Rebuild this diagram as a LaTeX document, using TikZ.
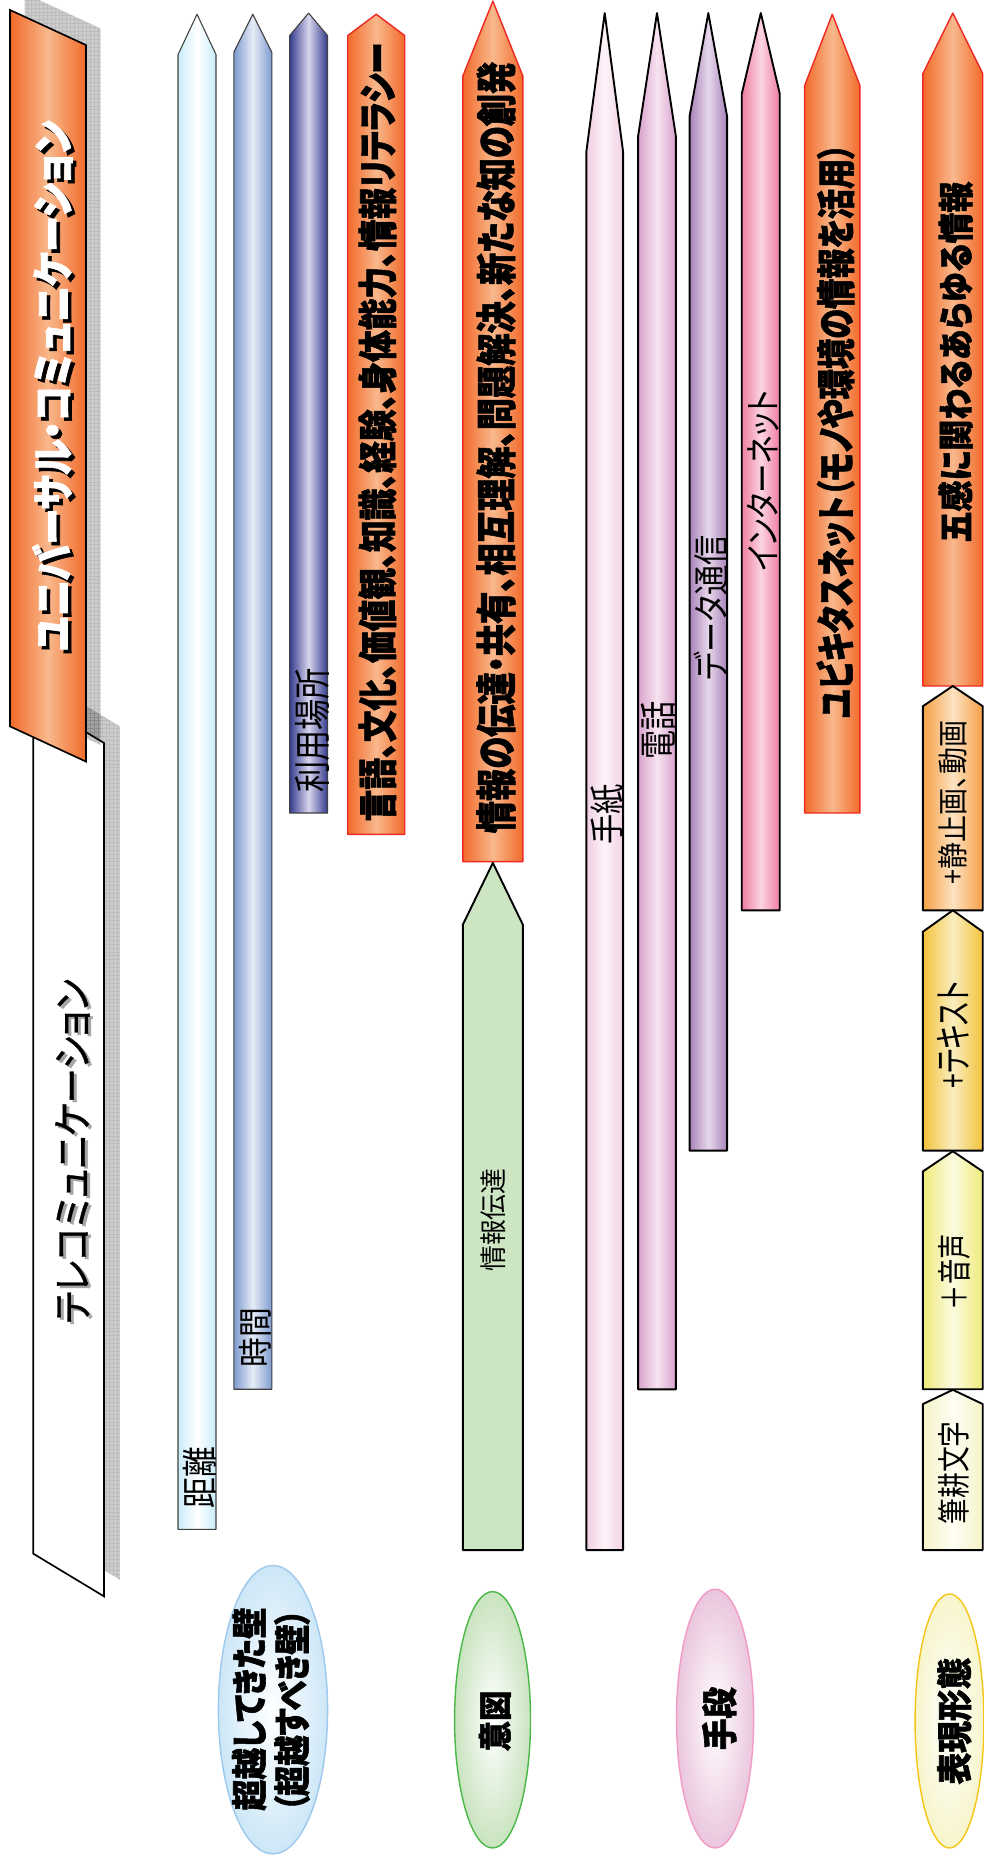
\documentclass[tikz,border=0pt]{standalone}
\usepackage{fontspec}
\setmainfont{Noto Sans CJK JP}[RawFeature=+palt, BoldFeatures={FakeBold=1.6}]
\newfontfamily\jpmid{Noto Sans CJK JP}[RawFeature=+palt, FakeBold=0.9]
\usepackage{graphicx}
\usetikzlibrary{shapes.geometric}

\definecolor{orE}{HTML}{F26A2A}
\definecolor{orM}{HTML}{F8B88C}
\definecolor{redB}{HTML}{EE2A24}
\definecolor{kyE}{HTML}{C8ECFA}
\definecolor{kyM}{HTML}{FFFFFF}
\definecolor{jiE}{HTML}{7E9BCF}
\definecolor{jiM}{HTML}{E6ECF6}
\definecolor{riE}{HTML}{343C8C}
\definecolor{riM}{HTML}{D9D6EE}
\definecolor{grF}{HTML}{CCE5C3}
\definecolor{teE}{HTML}{F0CFE3}
\definecolor{teM}{HTML}{FDF3F8}
\definecolor{deE}{HTML}{D9A2CC}
\definecolor{deM}{HTML}{F7E3F0}
\definecolor{daE}{HTML}{A683B9}
\definecolor{daM}{HTML}{E8D8EB}
\definecolor{inE}{HTML}{F07EA0}
\definecolor{inM}{HTML}{FBD4E2}
\definecolor{seE}{HTML}{F5A045}
\definecolor{seM}{HTML}{FDE2C2}
\definecolor{txE}{HTML}{F2C23A}
\definecolor{txM}{HTML}{FAEEC0}
\definecolor{onE}{HTML}{EEEA7A}
\definecolor{onM}{HTML}{FBFBE0}
\definecolor{hiE}{HTML}{F5F3C8}
\definecolor{hiM}{HTML}{FEFEF4}
\definecolor{elB}{HTML}{CDE7F7}
\definecolor{elBd}{HTML}{9EC9EE}
\definecolor{elG}{HTML}{C9E4C0}
\definecolor{elGd}{HTML}{4CB848}
\definecolor{elP}{HTML}{EAC6DE}
\definecolor{elPd}{HTML}{F29BC7}
\definecolor{elY}{HTML}{F7F5CC}
\definecolor{elYd}{HTML}{F5C518}

\tikzset{
  grad/.style 2 args={left color=#1, right color=#1, middle color=#2},
  orangebar/.style={grad={orE}{orM}, draw=redB, line width=1.2pt, line join=round},
  blkbar/.style={draw=black, line width=1.6pt, line join=round},
  graybar/.style={draw=black!75, line width=0.9pt, line join=round},
  lab/.style={rotate=90, inner sep=0pt},
  oval/.style={ellipse, inner sep=0pt, line width=1.2pt},
}

\newcommand\mybar[7]{%
  \path[#2] (#3,-#7) -- (#3,-#6) -- ({(#3+#4)/2},-#5) -- (#4,-#6) -- (#4,-#7) -- cycle;
  \coordinate (#1) at ({(#3+#4)/2},-#5);}
\newcommand\mylbl[7]{%
  \node[lab] (#1) at (#2,-#3) {\resizebox*{#4pt}{#5pt}{#6#7}};}

\begin{document}
\begin{tikzpicture}[x=1pt,y=1pt]
\fill[white] (0,0) rectangle (829,-1568);
\useasboundingbox (0,0) rectangle (829,-1568);

% ---- lower banner shadow
\begin{scope}
  \clip (41.4,-576) -- (101,-612) -- (101,-1331) -- (41.4,-1295) -- cycle;
  \fill[black, opacity=0.2] (30,-560) rectangle (110,-1340);
  \draw[black, opacity=0.08, line width=0.4pt, step=3.3] (30,-560) grid (110,-1340);
\end{scope}
% ---- lower banner
\path[draw=black, fill=white, line width=1.4pt] (28,-590) -- (87.6,-626) -- (87.6,-1345) -- (28,-1309) -- cycle;
\coordinate (lowbanner) at (58,-968);
% ---- top banner shadow
\begin{scope}
  \clip (20.7,5.6) -- (84.8,-24) -- (84.8,-627.7) -- (20.7,-598) -- cycle;
  \fill[black, opacity=0.2] (15,10) rectangle (90,-640);
  \draw[black, opacity=0.08, line width=0.4pt, step=3.3] (15,10) grid (90,-640);
\end{scope}
% ---- top banner
\path[grad={orE}{orM}, draw=black, line width=1.4pt] (8.4,-8.4) -- (72.5,-38) -- (72.5,-641.7) -- (8.4,-612) -- cycle;
\coordinate (topbanner) at (40,-325);

% ---- bars
\mybar{bKyori}{grad={kyE}{kyM}, graybar}{150}{182}{12}{46}{1288.5}
\mybar{bJikan}{grad={jiE}{jiM}, graybar}{197}{229}{12}{44}{1170.5}
\mybar{bRiyou}{grad={riE}{riM}, graybar}{244}{276}{11}{30}{685}
\mybar{bGengo}{orangebar}{293}{341}{12}{30}{703}
\mybar{bDentatsu}{orangebar}{390}{440.5}{1}{64}{726}
\mybar{bJouhou}{fill=grF, blkbar}{390}{440.5}{727}{779}{1306}
\mybar{bTegami}{grad={teE}{teM}, blkbar}{494}{525}{11}{128}{1306}
\mybar{bDenwa}{grad={deE}{deM}, blkbar}{537.6}{569.5}{11}{115}{1170.6}
\mybar{bData}{grad={daE}{daM}, blkbar}{581}{612.6}{11}{98}{969.5}
\mybar{bNet}{grad={inE}{inM}, blkbar}{625}{657}{11}{79}{767}
\mybar{bUbiq}{orangebar}{678}{724.5}{12}{72}{685}
\mybar{bGokan}{orangebar}{777.6}{828}{11}{62}{578}
\mybar{bSeishi}{grad={seE}{seM}, blkbar}{777.6}{828}{578}{595}{767}
\mybar{bText}{grad={txE}{txM}, blkbar}{777.6}{828}{767}{785}{969.5}
\mybar{bOnsei}{grad={onE}{onM}, blkbar}{777.6}{828}{970}{987}{1170.5}
\mybar{bHikkou}{grad={hiE}{hiM}, blkbar}{777.6}{828}{1171}{1183}{1306}

% ---- ellipses
\node[oval, draw=elBd, inner color=white, outer color=elB, minimum width=92pt, minimum height=243pt] (eChoetsu) at (230,-1440.5) {};
\node[oval, draw=elGd, inner color=white, outer color=elG, minimum width=64pt, minimum height=216pt] (eIto) at (415,-1449) {};
\node[oval, draw=elPd, inner color=white, outer color=elP, minimum width=65pt, minimum height=218pt] (eShudan) at (602.5,-1448) {};
\node[oval, draw=elYd, inner color=white, outer color=elY, minimum width=58pt, minimum height=214pt] (eHyougen) at (800,-1450) {};

% ---- labels
\mylbl{tUniS}{47}{328}{447}{34}{\bfseries\color{black}}{ユニバーサル・コミュニケーション}
\mylbl{tUni}{44}{325}{447}{34}{\bfseries\color{white}}{ユニバーサル・コミュニケーション}
\mylbl{tTeleS}{63.5}{972}{290}{29}{\jpmid\color{black!35}}{テレコミュニケーション}
\mylbl{tTele}{61}{970}{290}{29}{\jpmid}{テレコミュニケーション}

\mylbl{tKyori}{168.5}{1245}{52}{28}{}{距離}
\mylbl{tJikan}{215}{1127}{50}{27}{}{時間}
\mylbl{tRiyou}{263}{615.5}{105}{29}{}{利用場所}
\mylbl{tGengo}{318}{364}{656}{32}{\bfseries}{言語、文化、価値観、知識、経験、身体能力、情報リテラシー}
\mylbl{tDentatsu}{418}{377}{650}{33}{\bfseries}{情報の伝達・共有、相互理解、問題解決、新たな知の創発}
\mylbl{tJouhou}{416}{1028}{87}{21}{}{情報伝達}
\mylbl{tTegami}{512}{686}{51}{28}{}{手紙}
\mylbl{tDenwa}{555}{615.5}{49}{29}{}{電話}
\mylbl{tData}{599}{512}{122}{29}{}{データ通信}
\mylbl{tNet}{643}{405}{153}{27}{}{インターネット}
\mylbl{tUbiq}{704}{363}{484}{32}{\bfseries}{ユビキタスネット（モノや環境の情報を活用）}
\mylbl{tGokan}{805}{305}{304}{29}{\bfseries}{五感に関わるあらゆる情報}
\mylbl{tSeishi}{803}{676}{138}{24}{}{+静止画、動画}
\mylbl{tText}{803}{872}{90}{27}{}{+テキスト}
\mylbl{tOnsei}{804}{1072}{64}{27}{}{＋音声}
\mylbl{tHikkou}{804}{1241}{87}{26}{}{筆耕文字}
\mylbl{tChoetsuA}{210}{1440}{171}{29}{\bfseries}{超越してきた壁}
\mylbl{tChoetsuB}{246}{1441}{170}{30}{\bfseries}{（超越すべき壁）}
\mylbl{tIto}{417}{1450}{51}{27}{\bfseries}{意図}
\mylbl{tShudan}{606}{1448}{53}{29}{\bfseries}{手段}
\mylbl{tHyougen}{804}{1450}{107}{29}{\bfseries}{表現形態}
\end{tikzpicture}
\end{document}
